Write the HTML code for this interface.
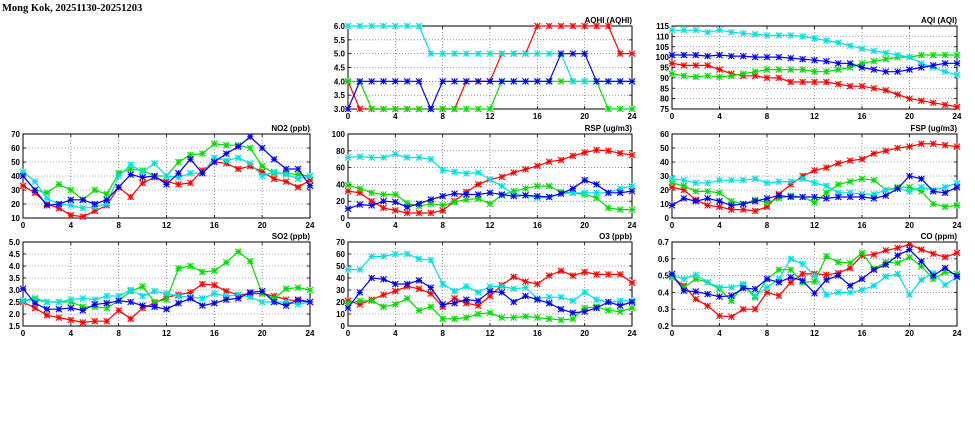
<!DOCTYPE html>
<html><head><meta charset="utf-8"><style>
body{margin:0;background:#fff;width:975px;height:447px;overflow:hidden}
svg{display:block;font-family:"Liberation Sans",sans-serif;font-weight:bold}
</style></head><body>
<svg id="c" width="975" height="447">
<text x="2" y="11" font-size="10.5" font-family="Liberation Serif,serif">Mong Kok, 20251130-20251203</text>
</svg>
<script>
const hours=[0,1,2,3,4,5,6,7,8,9,10,11,12,13,14,15,16,17,18,19,20,21,22,23,24];
const xTicks=[0,4,8,12,16,20,24];
const colors=['#ff0000','#00dd00','#00e0e0','#0000f0'];
const seriesNames=['red','green','cyan','blue'];

const aqhiRed=[4,3,3,3,3,3,3,3,3,3,4,4,4,5,5,5,6,6,6,6,6,6,6,5,5];
const aqhiGreen=[4,4,3,3,3,3,3,3,3,3,3,3,3,4,4,4,4,4,4,4,4,4,3,3,3];
const aqhiCyan=[6,6,6,6,6,6,6,5,5,5,5,5,5,5,5,5,5,5,5,4,4,4,4,4,4];
const aqhiBlue=[3,4,4,4,4,4,4,3,4,4,4,4,4,4,4,4,4,4,5,5,5,4,4,4,4];
const aqhiTicks=['3.0','3.5','4.0','4.5','5.0','5.5','6.0'];

const aqiRed=[97,96,96,96,94,92,91,91,90,90,88,88,88,88,87,86,86,85,84,82,80,79,78,77,76];
const aqiGreen=[92,91,90.5,91,90.5,91,92,93,94,94,94,94,93,93,94,95,97,98,99,100,100,101,101,101,101];
const aqiCyan=[113,113,113,112,113,112,111.5,111,110.5,110.5,110.5,110,109,108,107,105.5,104,103,102,101,100,97,95,93,91.5];
const aqiBlue=[101,101,101,100.5,101,100.5,100.5,100,100,100,99.5,99,98.5,98,97,97,95,94,93,93,94,95,96,97,97];
const aqiTicks=['75','80','85','90','95','100','105','110','115'];

const no2Red=[33,28,20,17,12,11,15,19,32,25,35,39,36,34,35,44,50,49,45,47,43,38,36,32,37];
const no2Green=[40,30,28,34,30,23,30,27,42,45,44,40,40,50,55,56,63,62,62,60,47,42,42,41,40];
const no2Cyan=[43,36,24,20,19,17,18,20,40,48,43,49,40,39,42,42,53,51,53,49,40,43,41,38,40];
const no2Blue=[40,30,19,20,23,23,20,23,32,41,39,40,34,42,52,42,50,56,61,68,60,52,45,45,33];
const no2Ticks=['10','20','30','40','50','60','70'];

const rspRed=[32,30,20,12,9,6,6,6,9,20,31,40,46,49,54,58,62,67,69,74,78,81,80,77,75];
const rspGreen=[39,35,30,28,28,18,14,17,15,19,22,23,17,27,32,35,38,38,31,30,28,24,12,10,10];
const rspCyan=[72,73,72,72,76,72,72,70,57,55,53,54,46,38,28,27,24,25,29,30,30,30,30,35,38];
const rspBlue=[11,16,15,20,19,13,17,22,26,29,28,28,30,28,26,27,26,25,29,35,45,40,30,30,32];
const rspTicks=['0','20','40','60','80','100'];

const fspRed=[22,20,13,9,8,6,6,5,8,17,24,30,34,36,39,41,42,46,48,50,51,53,53,52,51];
const fspGreen=[25,23,19,19,18,12,10,13,11,14,16,15,11,18,24,26,28,27,20,22,22,19,10,8,9];
const fspCyan=[28,27,25,25,27,27,27,28,25,26,26,28,25,23,18,18,17,17,20,21,19,22,20,22,25];
const fspBlue=[9,14,12,14,12,9,10,12,14,16,15,15,15,14,15,15,15,14,16,21,30,28,19,18,22];
const fspTicks=['0','10','20','30','40','50','60'];

const so2Red=[2.5,2.25,1.95,1.85,1.75,1.65,1.7,1.7,2.15,1.8,2.25,2.45,2.7,2.8,2.9,3.25,3.2,2.95,2.8,2.85,2.85,2.75,2.6,2.55,2.5];
const so2Green=[2.55,2.65,2.5,2.5,2.5,2.3,2.3,2.25,2.55,2.95,3.15,2.5,2.6,3.9,4.0,3.75,3.8,4.15,4.6,4.2,2.85,2.65,3.05,3.1,3.0];
const so2Cyan=[2.55,2.6,2.5,2.5,2.6,2.65,2.6,2.75,2.75,3.0,2.75,2.95,2.85,2.75,2.7,2.65,2.85,2.75,2.8,2.7,2.5,2.5,2.5,2.4,2.5];
const so2Blue=[3.05,2.45,2.2,2.2,2.25,2.15,2.4,2.45,2.55,2.5,2.35,2.3,2.2,2.45,2.65,2.35,2.45,2.6,2.65,2.9,2.95,2.5,2.35,2.6,2.5];
const so2Ticks=['1.5','2.0','2.5','3.0','3.5','4.0','4.5','5.0'];

const o3Red=[21,18,22,26,29,33,31,27,16,23,19,17,25,34,41,37,35,42,46,42,45,43,43,43,36];
const o3Green=[19,21,21,16,18,23,13,16,6,6,7,10,11,7,7,8,7,6,5,6,15,16,13,12,15];
const o3Cyan=[47,47,58,58,60,60,56,55,35,29,33,28,33,33,31,32,23,24,24,21,28,22,20,21,21];
const o3Blue=[15,28,40,39,35,35,38,32,18,19,22,21,29,28,20,25,22,19,14,11,12,15,20,17,20];
const o3Ticks=['0','10','20','30','40','50','60','70'];

const coRed=[.49,.44,.36,.32,.26,.255,.30,.30,.40,.38,.46,.51,.51,.505,.515,.545,.62,.625,.65,.665,.685,.655,.63,.61,.635];
const coGreen=[.49,.43,.48,.46,.42,.35,.44,.37,.48,.535,.535,.46,.465,.615,.58,.575,.635,.54,.58,.575,.61,.555,.48,.52,.51];
const coCyan=[.50,.48,.505,.46,.43,.43,.45,.38,.43,.48,.60,.57,.50,.385,.40,.40,.415,.44,.495,.51,.385,.475,.515,.445,.49];
const coBlue=[.51,.41,.405,.39,.375,.38,.425,.42,.48,.46,.49,.47,.395,.475,.50,.44,.48,.535,.565,.62,.655,.585,.50,.545,.495];
const coTicks=['0.2','0.3','0.4','0.5','0.6','0.7'];

const svg=document.getElementById('c');
const NS='http://www.w3.org/2000/svg';
function mk(t,a,p){const e=document.createElementNS(NS,t);for(const k in a)e.setAttribute(k,a[k]);(p||svg).appendChild(e);return e;}

const panels=[
 {key:'aqhi',title:'AQHI (AQHI)',x0:348,x1:632,y0:26,y1:109,ticks:aqhiTicks,s:[aqhiRed,aqhiGreen,aqhiCyan,aqhiBlue]},
 {key:'aqi',title:'AQI (AQI)',x0:672,x1:957,y0:26,y1:109,ticks:aqiTicks,s:[aqiRed,aqiGreen,aqiCyan,aqiBlue]},
 {key:'no2',title:'NO2 (ppb)',x0:23,x1:310,y0:134,y1:218,ticks:no2Ticks,s:[no2Red,no2Green,no2Cyan,no2Blue]},
 {key:'rsp',title:'RSP (ug/m3)',x0:348,x1:632,y0:134,y1:218,ticks:rspTicks,s:[rspRed,rspGreen,rspCyan,rspBlue]},
 {key:'fsp',title:'FSP (ug/m3)',x0:672,x1:957,y0:134,y1:218,ticks:fspTicks,s:[fspRed,fspGreen,fspCyan,fspBlue]},
 {key:'so2',title:'SO2 (ppb)',x0:23,x1:310,y0:242,y1:326,ticks:so2Ticks,s:[so2Red,so2Green,so2Cyan,so2Blue]},
 {key:'o3',title:'O3 (ppb)',x0:348,x1:632,y0:242,y1:326,ticks:o3Ticks,s:[o3Red,o3Green,o3Cyan,o3Blue]},
 {key:'co',title:'CO (ppm)',x0:672,x1:957,y0:242,y1:326,ticks:coTicks,s:[coRed,coGreen,coCyan,coBlue]}
];

panels.forEach(p=>{
 const g=mk('g',{});
 
 
 const tv=p.ticks.map(Number);
 const ymin=tv[0],ymax=tv[tv.length-1];
 const X=h=>p.x0+(h-0)/(24-0)*(p.x1-p.x0);
 const Y=v=>p.y1-(v-ymin)/(ymax-ymin)*(p.y1-p.y0);
 // grid
 xTicks.forEach(t=>{
  if(t>0&&t<24){const l=mk('line',{x1:X(t),x2:X(t),y1:p.y0,y2:p.y1,stroke:'#555','stroke-width':0.6,'stroke-dasharray':'1,2'},g);
  }
  const tx=mk('text',{x:X(t),y:p.y1+10,'font-size':8,'text-anchor':'middle'},g);tx.textContent=t;
  
  mk('line',{x1:X(t),x2:X(t),y1:p.y1,y2:p.y1-3,stroke:'#000','stroke-width':0.8},g);
  mk('line',{x1:X(t),x2:X(t),y1:p.y0,y2:p.y0+3,stroke:'#000','stroke-width':0.8},g);
 });
 p.ticks.forEach((t,i)=>{
  const v=tv[i];
  if(i>0&&i<tv.length-1){const l=mk('line',{x1:p.x0,x2:p.x1,y1:Y(v),y2:Y(v),stroke:'#555','stroke-width':0.6,'stroke-dasharray':'1,2'},g);
  }
  const tx=mk('text',{x:p.x0-3,y:Y(v)+3,'font-size':8,'text-anchor':'end'},g);tx.textContent=t;
  
  mk('line',{x1:p.x0,x2:p.x0+3,y1:Y(v),y2:Y(v),stroke:'#000','stroke-width':0.8},g);
  mk('line',{x1:p.x1,x2:p.x1-3,y1:Y(v),y2:Y(v),stroke:'#000','stroke-width':0.8},g);
 });
 const fr=mk('rect',{x:p.x0,y:p.y0,width:p.x1-p.x0,height:p.y1-p.y0,fill:'none',stroke:'#000','stroke-width':1},g);
 
 const tt=mk('text',{x:p.x1,y:p.y0-3,'font-size':8,'text-anchor':'end'},g);tt.textContent=p.title;
 
 p.s.forEach((arr,si)=>{
  const c=colors[si];
  const pts=arr.map((v,i)=>X(hours[i]).toFixed(1)+','+Y(v).toFixed(1)).join(' ');
  const pl=mk('polyline',{points:pts,fill:'none',stroke:c,'stroke-width':1.2},g);
  
  
  arr.forEach((v,i)=>{
   const cx=X(hours[i]),cy=Y(v),r=3;
   const m=mk('path',{d:`M${cx-r},${cy-r}L${cx+r},${cy+r}M${cx-r},${cy+r}L${cx+r},${cy-r}M${cx-r},${cy}L${cx+r},${cy}M${cx},${cy-r}L${cx},${cy+r}`,stroke:c,'stroke-width':1.1},g);
   
   
  });
 });
});
</script>
</body></html>
